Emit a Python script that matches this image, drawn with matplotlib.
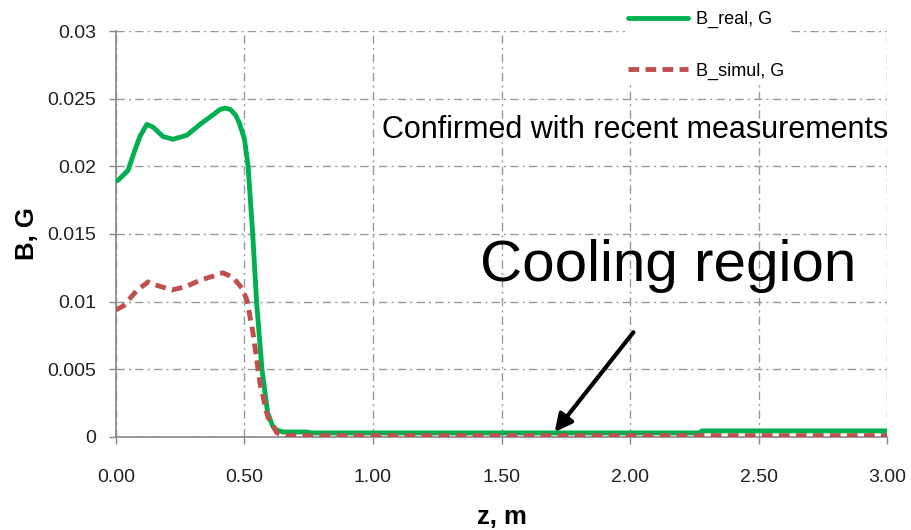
import matplotlib.pyplot as plt
import numpy as np

plt.rcParams['font.family'] = ['Liberation Sans', 'DejaVu Sans']

# measured field along z
z_real = [0.0, 0.01, 0.047, 0.07, 0.093, 0.12, 0.144, 0.183, 0.222, 0.276, 0.327, 0.377,
          0.405, 0.424, 0.445, 0.465, 0.48, 0.50, 0.514, 0.532, 0.547, 0.568, 0.59,
          0.61, 0.626, 0.65, 0.74, 0.76, 2.27, 2.28, 3.0]
b_real = [0.0189, 0.0190, 0.0197, 0.0210, 0.0222, 0.0231, 0.0229, 0.0222, 0.0220,
          0.0223, 0.0231, 0.0238, 0.0242, 0.0243, 0.0242, 0.0238, 0.0232, 0.0220,
          0.0200, 0.0150, 0.0100, 0.0050, 0.0018, 0.0008, 0.0005, 0.00037, 0.00037,
          0.0003, 0.0003, 0.00045, 0.00045]

# simulated field along z
z_sim = [0.0, 0.03, 0.08, 0.125, 0.16, 0.218, 0.27, 0.33, 0.38, 0.416, 0.455,
         0.49, 0.51, 0.533, 0.56, 0.59, 0.626, 0.66, 3.0]
b_sim = [0.0094, 0.0097, 0.0108, 0.01146, 0.0112, 0.01087, 0.0111, 0.0116, 0.0119,
         0.01213, 0.0118, 0.0110, 0.0101, 0.0077, 0.0040, 0.0015, 0.0003, 0.0001, 0.0001]

x_ticks = [0.0, 0.5, 1.0, 1.5, 2.0, 2.5, 3.0]
x_labels = ["0.00", "0.50", "1.00", "1.50", "2.00", "2.50", "3.00"]
y_ticks = [0, 0.005, 0.01, 0.015, 0.02, 0.025, 0.03]
y_labels = ["0", "0.005", "0.01", "0.015", "0.02", "0.025", "0.03"]

fig = plt.figure(figsize=(9.11, 5.30), dpi=100)
ax = fig.add_axes([0.1273, 0.1755, 0.8464, 0.766])

ax.plot(z_real, b_real, color="#00B050", lw=3.5, label="B_real, G",
        solid_capstyle="round", solid_joinstyle="round", zorder=3)
ax.plot(z_sim, b_sim, color="#C0504D", lw=3.5, ls=(0, (2.2, 1.3)),
        label="B_simul, G", zorder=4)

ax.set_xlim(0, 3.0)
ax.set_ylim(0, 0.03)
ax.set_xticks(x_ticks, x_labels)
ax.set_yticks(y_ticks, y_labels)
ax.tick_params(labelsize=14, length=5, width=1, color="#888888", pad=9,
               labelcolor="#222222")
ax.tick_params(axis="x", pad=18)
ax.grid(True, ls=(0, (6, 3, 1.5, 3)), color="#999999", lw=1)
for s in ["top", "right"]:
    ax.spines[s].set_visible(False)
for s in ["left", "bottom"]:
    ax.spines[s].set_color("#888888")
    ax.spines[s].set_linewidth(1.2)

ax.set_xlabel("z, m", fontsize=18.5, fontweight="bold", labelpad=14)
ax.set_ylabel("B, G", fontsize=18.5, fontweight="bold", labelpad=6)

leg = ax.legend(loc="upper left", bbox_to_anchor=(0.676, 1.003), bbox_transform=fig.transFigure,
                fontsize=13, handlelength=3.3, labelspacing=1.9, frameon=True,
                borderpad=0.2, handletextpad=0.45)
leg.get_frame().set_edgecolor("none")
leg.get_frame().set_facecolor("white")
leg.get_frame().set_alpha(1)

ax.text(1.001, 0.755, "Confirmed with recent measurements", transform=ax.transAxes,
        ha="right", va="center", fontsize=22)
ax.text(0.472, 0.42, "Cooling region", transform=ax.transAxes,
        ha="left", va="center", fontsize=42)
ax.annotate("", xy=(1.70, 0.0002), xytext=(2.02, 0.0079),
            arrowprops=dict(arrowstyle="-|>", color="black", lw=3, mutation_scale=26))

fig.savefig("out.png", dpi=100)
